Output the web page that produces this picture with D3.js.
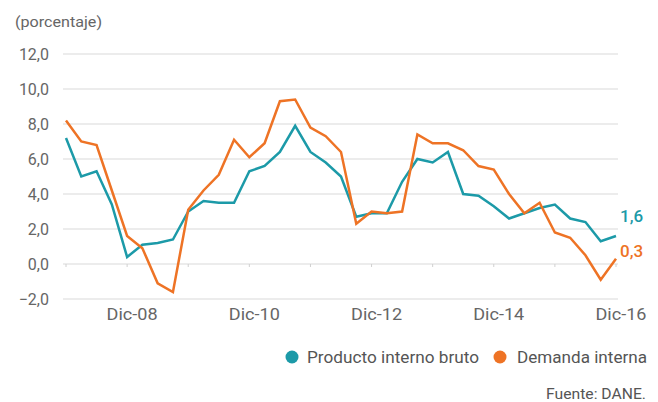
<!DOCTYPE html>
<html>
<head>
<meta charset="utf-8">
<script src="https://cdn.jsdelivr.net/npm/d3@7"></script>
<style>
  body { margin: 0; background: #fff; }
  text { font-family: Roboto, "Liberation Sans", sans-serif; }
</style>
</head>
<body>
<div id="chart-container"></div>
<script>
// quarterly periods, Dic-07 .. Dic-16
const periods = [
  "Dic-07", "Mar-08", "Jun-08", "Sep-08", "Dic-08", "Mar-09", "Jun-09", "Sep-09",
  "Dic-09", "Mar-10", "Jun-10", "Sep-10", "Dic-10", "Mar-11", "Jun-11", "Sep-11",
  "Dic-11", "Mar-12", "Jun-12", "Sep-12", "Dic-12", "Mar-13", "Jun-13", "Sep-13",
  "Dic-13", "Mar-14", "Jun-14", "Sep-14", "Dic-14", "Mar-15", "Jun-15", "Sep-15",
  "Dic-15", "Mar-16", "Jun-16", "Sep-16", "Dic-16"
];

// Producto interno bruto (annual growth, %)
const pib = [
  7.2, 5.0, 5.3, 3.4, 0.4, 1.1, 1.2, 1.4,
  3.0, 3.6, 3.5, 3.5, 5.3, 5.6, 6.4, 7.9,
  6.4, 5.8, 5.0, 2.7, 2.9, 2.9, 4.7, 6.0,
  5.8, 6.4, 4.0, 3.9, 3.3, 2.6, 2.9, 3.2,
  3.4, 2.6, 2.4, 1.3, 1.6
];

// Demanda interna (annual growth, %)
const demanda = [
  8.2, 7.0, 6.8, 4.2, 1.6, 0.9, -1.1, -1.6,
  3.1, 4.2, 5.1, 7.1, 6.1, 6.9, 9.3, 9.4,
  7.8, 7.3, 6.4, 2.3, 3.0, 2.9, 3.0, 7.4,
  6.9, 6.9, 6.5, 5.6, 5.4, 4.0, 2.9, 3.5,
  1.8, 1.5, 0.5, -0.9, 0.3
];

const yTicks = [-2, 0, 2, 4, 6, 8, 10, 12];
const xTickLabels = ["Dic-08", "Dic-10", "Dic-12", "Dic-14", "Dic-16"];

const series = [
  { name: "Producto interno bruto", values: pib, color: "#1c9aa8" },
  { name: "Demanda interna", values: demanda, color: "#ee7325" }
];

const width = 658;
const height = 402;

const svg = d3
  .select("#chart-container")
  .append("svg")
  .attr("width", width)
  .attr("height", height);

const xScale = d3.scaleLinear().domain([0, periods.length - 1]).range([66, 616]);
const yScale = d3.scaleLinear().domain([-2, 12]).range([299, 54]);

const locale = d3.formatLocale({ decimal: ",", thousands: ".", grouping: [3], currency: ["$", ""] });
const fmt = locale.format(".1f");

// gridlines
svg
  .append("g")
  .selectAll("line")
  .data(yTicks)
  .join("line")
  .attr("x1", 63)
  .attr("x2", 618)
  .attr("y1", (d) => yScale(d))
  .attr("y2", (d) => yScale(d))
  .attr("stroke", "#e6e6e6")
  .attr("stroke-width", 1.5);

// y labels
svg
  .append("g")
  .selectAll("text")
  .data(yTicks)
  .join("text")
  .attr("x", 49)
  .attr("y", (d) => yScale(d))
  .attr("dy", "0.35em")
  .attr("text-anchor", "end")
  .attr("fill", "#666")
  .style("font-size", "16px")
  .text((d) => fmt(d));

// small tick marks on the zero line, every December
const decIdx = periods.map((p, i) => i).filter((i) => periods[i].startsWith("Dic"));
svg
  .append("g")
  .selectAll("line")
  .data(decIdx)
  .join("line")
  .attr("x1", (d) => xScale(d))
  .attr("x2", (d) => xScale(d))
  .attr("y1", yScale(0))
  .attr("y2", yScale(0) + 3)
  .attr("stroke", "#d0d0d0")
  .attr("stroke-width", 1);

// x labels
svg
  .append("g")
  .selectAll("text")
  .data(xTickLabels)
  .join("text")
  .attr("x", (d) => xScale(periods.indexOf(d)) + 5)
  .attr("y", 314)
  .attr("dy", "0.35em")
  .attr("text-anchor", "middle")
  .attr("fill", "#666")
  .style("font-size", "16.5px")
  .attr("textLength", 51)
  .attr("lengthAdjust", "spacingAndGlyphs")
  .text((d) => d);

// lines
const line = d3
  .line()
  .x((d, i) => xScale(i))
  .y((d) => yScale(d));

series.forEach((s) => {
  svg
    .append("path")
    .datum(s.values)
    .attr("fill", "none")
    .attr("stroke", s.color)
    .attr("stroke-width", 2.5)
    .attr("stroke-linejoin", "miter")
    .attr("d", line);
});

// end value labels
svg
  .append("text")
  .attr("x", 620)
  .attr("y", 216.5)
  .attr("dy", "0.35em")
  .attr("fill", series[0].color)
  .style("font-size", "17px")
  .style("font-weight", "500")
  .text(fmt(pib[pib.length - 1]));

svg
  .append("text")
  .attr("x", 620)
  .attr("y", 251.5)
  .attr("dy", "0.35em")
  .attr("fill", series[1].color)
  .style("font-size", "17px")
  .style("font-weight", "500")
  .text(fmt(demanda[demanda.length - 1]));

// unit label
svg
  .append("text")
  .attr("x", 15)
  .attr("y", 22)
  .attr("dy", "0.35em")
  .attr("fill", "#666")
  .style("font-size", "15.5px")
  .attr("textLength", 87)
  .attr("lengthAdjust", "spacingAndGlyphs")
  .text("(porcentaje)");

// legend
const legend = [
  { x: 292, tx: 307, w: 172, s: series[0] },
  { x: 500, tx: 517, w: 130, s: series[1] }
];
legend.forEach((l) => {
  svg
    .append("circle")
    .attr("cx", l.x)
    .attr("cy", 357)
    .attr("r", 6.5)
    .attr("fill", l.s.color);
  svg
    .append("text")
    .attr("x", l.tx)
    .attr("y", 357)
    .attr("dy", "0.35em")
    .attr("fill", "#555")
    .style("font-size", "16.5px")
    .attr("textLength", l.w)
    .attr("lengthAdjust", "spacingAndGlyphs")
    .text(l.s.name);
});

// source
svg
  .append("text")
  .attr("x", 646)
  .attr("y", 394)
  .attr("dy", "0.35em")
  .attr("text-anchor", "end")
  .attr("fill", "#555")
  .style("font-size", "15px")
  .attr("textLength", 100)
  .attr("lengthAdjust", "spacingAndGlyphs")
  .text("Fuente: DANE.");
</script>
</body>
</html>
